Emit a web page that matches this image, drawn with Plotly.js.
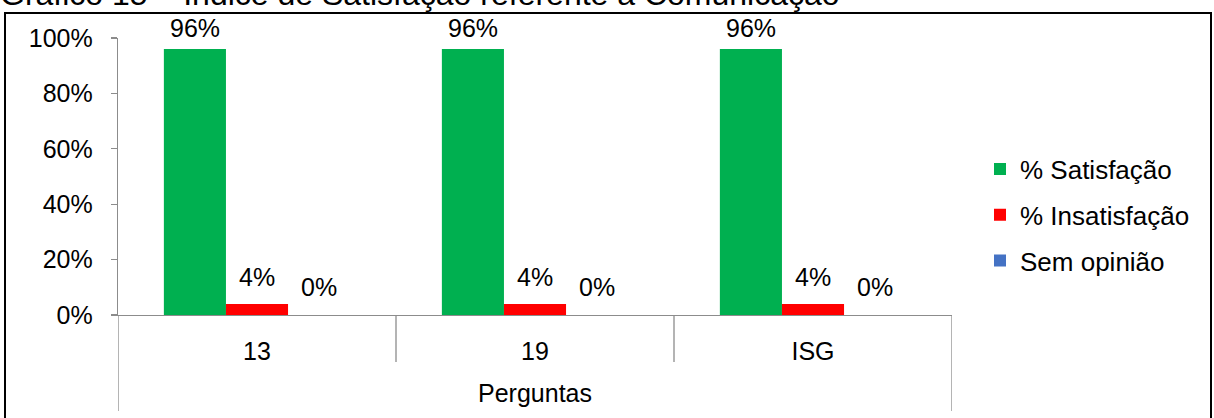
<!DOCTYPE html>
<html>
<head>
<meta charset="utf-8">
<script src="https://cdn.plot.ly/plotly-3.0.1.min.js"></script>
<style>
  html, body { margin: 0; padding: 0; background: #fff; }
  #chart { width: 1214px; height: 418px; }
</style>
</head>
<body>
<div id="chart"></div>
<script>
const chartTitle = "Gráfico 15 – Índice de Satisfação referente à Comunicação";
const categories = ["13", "19", "ISG"];
const seriesNames = ["% Satisfação", "% Insatisfação", "Sem opinião"];
const satisfacao = [0.96, 0.96, 0.96];
const insatisfacao = [0.04, 0.04, 0.04];
const semOpiniao = [0.0, 0.0, 0.0];
const xAxisTitle = "Perguntas";
const colors = ["#00B050", "#FF0000", "#4472C4"];

const FONT = "Liberation Sans, Arial, Helvetica, sans-serif";
const series = [satisfacao, insatisfacao, semOpiniao];

// plot-area geometry helpers (paper coordinates)
const L = 118, R = 262, T = 38, B = 103, W = 1214, H = 418;
const pw = W - L - R, ph = H - T - B;
const px = x => (x - L) / pw;
const py = y => (H - B - y) / ph;
const BARGAP = 0.33;
const barPx = (pw / categories.length) * (1 - BARGAP) / series.length;
const labelLift = [5, 11, 12];

const traces = series.map((vals, i) => ({
  type: "bar",
  name: seriesNames[i],
  x: categories,
  y: vals,
  marker: { color: colors[i], line: { width: 0 } },
  legendgroup: "g" + i,
  hoverinfo: "skip"
}));

// data labels placed above each bar (x given as category index)
const annotations = [];
series.forEach((vals, i) => {
  vals.forEach((v, j) => {
    annotations.push({
      xref: "x", yref: "y",
      x: j, y: v,
      xshift: (i - (series.length - 1) / 2) * barPx,
      yshift: labelLift[i],
      xanchor: "center", yanchor: "bottom",
      text: Math.round(v * 100) + "%",
      showarrow: false,
      font: { family: FONT, size: 25, color: "#000" }
    });
  });
});

const shapes = [];
// category divider lines (multi-level axis look)
for (let i = 0; i <= categories.length; i++) {
  const outer = (i === 0 || i === categories.length);
  shapes.push({
    type: "line", xref: "x", yref: "paper",
    x0: i - 0.5, x1: i - 0.5,
    y0: 0, y1: outer ? py(411) : py(362),
    line: { color: "#8C8C8C", width: 1.3 }
  });
}
// outer black frame
shapes.push({
  type: "rect", xref: "paper", yref: "paper",
  x0: px(5), x1: px(1211), y0: py(430), y1: py(13),
  line: { color: "#000", width: 2 }, fillcolor: "rgba(0,0,0,0)"
});

const layout = {
  width: W, height: H,
  margin: { l: L, r: R, t: T, b: B, pad: 0 },
  paper_bgcolor: "#fff", plot_bgcolor: "#fff",
  font: { family: FONT, size: 25, color: "#000" },
  barmode: "group",
  bargap: BARGAP,
  bargroupgap: 0,
  title: {
    text: chartTitle,
    font: { family: FONT, size: 32, color: "#000" },
    x: 0, xref: "container", xanchor: "left",
    y: 1 - 5 / H, yref: "container", yanchor: "bottom",
    pad: { t: 0, b: 0, l: 0, r: 0 }
  },
  xaxis: {
    type: "category",
    showline: true, linecolor: "#8C8C8C", linewidth: 1.3,
    ticks: "outside", ticklen: 14, tickcolor: "rgba(0,0,0,0)",
    showgrid: false, zeroline: false,
    tickfont: { family: FONT, size: 25, color: "#000" },
    range: [-0.5, categories.length - 0.5],
    title: { text: xAxisTitle, font: { family: FONT, size: 25, color: "#000" }, standoff: 20 }
  },
  yaxis: {
    range: [0, 1],
    dtick: 0.2,
    tickformat: ".0%",
    showline: true, linecolor: "#8C8C8C", linewidth: 1.3,
    ticks: "outside", ticklen: 6, tickcolor: "#8C8C8C", tickwidth: 1.3,
    ticklabelstandoff: 13,
    showgrid: false, zeroline: false,
    tickfont: { family: FONT, size: 25, color: "#000" }
  },
  legend: {
    x: px(980), xanchor: "left",
    y: py(215), yanchor: "middle",
    font: { family: FONT, size: 26, color: "#000" },
    tracegroupgap: 9,
    itemwidth: 30,
    bgcolor: "rgba(0,0,0,0)"
  },
  showlegend: true,
  annotations: annotations,
  shapes: shapes
};

Plotly.newPlot("chart", traces, layout, { displayModeBar: false, staticPlot: true });
</script>
</body>
</html>
